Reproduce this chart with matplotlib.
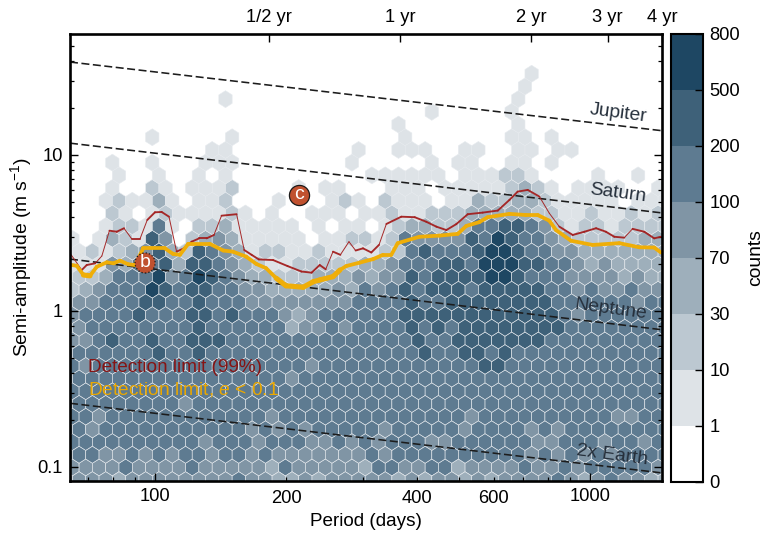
import numpy as np
import matplotlib
matplotlib.use("Agg")
import matplotlib.pyplot as plt
from matplotlib.collections import LineCollection
from matplotlib.colors import ListedColormap, BoundaryNorm
from matplotlib.cm import ScalarMappable
from matplotlib.ticker import FixedLocator, NullFormatter, FixedFormatter

plt.rcParams['font.family'] = ['Liberation Sans', 'DejaVu Sans']
plt.rcParams['mathtext.fontset'] = 'custom'
plt.rcParams['mathtext.rm'] = 'Liberation Sans'
plt.rcParams['mathtext.it'] = 'Liberation Sans:italic'
plt.rcParams['mathtext.default'] = 'regular'

# colour-bar classes
count_bounds = [0, 1, 10, 30, 70, 100, 200, 500, 800]
class_colors = ['#ffffff', '#dee3e7', '#bcc8d1', '#9eafbb', '#8095a5', '#5e7b91', '#3e6179', '#1e4763']
class_counts = [0, 5, 20, 50, 85, 150, 350, 650]

# class index of every hexagon, top row first; rows alternate in phase
hex_rows = [
    "00000 00000 00000 00000 00000 00000 00000 00000 00000",
    "00000 00000 00000 00000 00000 00000 00000 00000 00000 0",
    "00000 00000 00000 00000 00000 00000 00000 00000 00000",
    "00000 00000 00000 00000 00000 00000 00000 10000 00000 0",
    "00000 00000 00000 00000 00000 00000 00001 00000 00000",
    "00000 00000 00100 00000 00000 00000 00001 00000 00000 0",
    "00000 00000 00000 00000 00000 00100 00010 00000 00000",
    "00000 00000 00000 00000 00000 10000 00001 00000 00000 0",
    "00000 01000 00100 00000 00000 10000 00011 01000 00000",
    "00000 00000 01100 00000 00100 11100 11001 10110 00000 0",
    "00010 01000 11100 00000 01000 00101 10011 01000 00000",
    "00001 00100 10100 00000 00011 11110 11122 10000 10010 0",
    "00010 02101 11200 00101 10001 11011 11123 21011 11001",
    "00012 11310 11200 01000 12102 11101 13223 32111 11011 1",
    "00021 01211 11210 10011 10112 11222 33333 22112 11212",
    "00012 21510 22311 11101 01101 23322 35566 54212 21222 2",
    "10132 16402 34311 11101 12212 54444 65765 54322 22233",
    "11212 34632 65431 22112 11112 25655 56776 55443 33333 3",
    "11143 55636 65432 11222 22334 55566 57776 65543 43333",
    "22235 55745 76543 32223 33434 46566 66776 55544 44343 3",
    "23455 57656 65544 33333 43545 65666 56666 65545 44544",
    "34455 56655 65554 44444 44555 56556 66666 66555 55545 5",
    "45555 65556 65655 54345 55555 66666 66666 66545 55555",
    "44555 55555 65555 55344 54555 56565 66666 66655 55555 5",
    "44565 56556 66555 55555 55555 56556 66666 65555 55555",
    "55555 55655 65555 55555 55555 55655 66565 55555 55555 5",
    "54555 55555 55555 55545 55555 55555 56655 55555 55555",
    "55555 55555 55555 55455 55555 55555 55555 55555 55555 5",
    "55555 55555 55555 55555 55555 55555 55555 55555 55555",
    "55555 55554 55555 55555 55555 55555 55555 55555 55555 5",
    "55455 55555 55555 45555 55555 55555 45555 55555 54455",
    "55455 55555 55554 54545 55554 55555 45555 45455 55555 5",
    "55555 55555 45554 55544 54545 55445 55555 44555 45545",
    "55544 54545 54554 54444 44454 55555 55555 45454 54555 5",
    "44445 44445 44444 35444 44355 44553 44445 44545 55554",
    "44443 44444 44454 43343 44444 34344 34344 44543 45443 3",
]

# detection limits
red_period = [64.2, 67.9, 69.7, 72.9, 75.5, 78.6, 81.7, 84.9, 88.4, 92.4, 96.0, 100, 103.6, 107.7, 112.1, 116.5,
              121.4, 126.4, 131.4, 136.6, 142.2, 154, 160.3, 166.7, 173.2, 186.8, 201.6, 217, 229, 239, 246.7,
              256.4, 266.6, 279, 289, 300.5, 314, 327, 340, 368, 395, 420, 443, 467, 492, 523, 566, 613, 652,
              681, 718, 764, 805, 849, 911, 969, 1031, 1086, 1135, 1197, 1250, 1330, 1402, 1453]
red_limit = [2.29, 1.83, 1.97, 2.02, 2.25, 3.27, 3.22, 3.39, 2.90, 2.90, 3.83, 4.29, 4.31, 4.02, 2.40, 2.52,
             2.78, 2.92, 2.92, 3.07, 4.08, 4.17, 2.46, 2.29, 2.14, 2.12, 1.94, 1.79, 1.76, 1.97, 1.85,
             2.40, 2.29, 2.78, 2.44, 2.52, 2.37, 2.65, 3.61, 4.02, 3.99, 3.73, 3.47, 3.30, 3.60, 4.17, 4.27, 4.40, 5.15,
             5.82, 5.97, 5.41, 4.23, 3.47, 3.07, 3.22, 3.39, 3.22, 2.99, 2.95, 3.36, 3.22, 2.92, 2.99]
orange_period = [64.2, 66.1, 68.5, 70.9, 73.5, 77.5, 80.3, 83.1, 86.9, 90, 94, 105.4, 110.1, 114.1, 119.2, 133.7,
                 143.5, 151, 162, 171, 180, 190, 200, 219, 231, 239, 256.4, 266, 275, 295, 317, 334, 349, 361,
                 405, 450, 496, 519, 556, 581, 652, 712, 757, 805, 834, 903, 1012, 1165, 1295, 1402, 1453]
orange_limit = [1.97, 1.95, 1.70, 1.68, 1.92, 2.05, 2.02, 2.10, 1.99, 1.97, 2.52, 2.52, 2.32, 2.29, 2.69, 2.69,
                2.44, 2.40, 2.23, 2.00, 1.88, 1.62, 1.45, 1.42, 1.54, 1.58, 1.66, 1.83, 1.94, 2.04, 2.15, 2.29, 2.29, 2.72,
                2.99, 3.04, 3.12, 3.51, 3.71, 3.99, 4.19, 4.12, 4.12, 3.79, 3.30, 2.82, 2.65, 2.72, 2.56, 2.55, 2.37]

# planet-mass guide lines: amplitude at the two ends of the period range
guide_names = ['Jupiter', 'Saturn', 'Neptune', '2x Earth']
guide_left = [39.4, 11.9, 2.15, 0.256]
guide_right = [14.3, 4.25, 0.758, 0.0916]
guide_label_period = [1158, 1158, 1111, 1122]
guide_label_amp = [18.6, 5.70, 1.02, 0.119]

planet_names = ['b', 'c']
planet_period = [94.9, 214]
planet_amp = [2.03, 5.54]

xlim = (63.8, 1461)
ylim = (0.0813, 59.6)
year_ticks = [182.6, 365.25, 730.5, 1095.75, 1461]
year_labels = ['1/2 yr', '1 yr', '2 yr', '3 yr', '4 yr']

W, H = 766, 538
fig = plt.figure(figsize=(W / 100, H / 100), dpi=100)
ax = fig.add_axes([70 / W, 1 - 481 / H, 592 / W, 447 / H])

# hexagon lattice (log10 units), expressed as in hexbin
ext = (1.7798, 3.1862, -1.1660, 1.7647)
nx, ny = 46, 18
sx = (ext[1] - ext[0]) / nx
sy = (ext[3] - ext[2]) / ny
px, py, pc = [], [], []
for r, row in enumerate(hex_rows):
    cells = row.replace(' ', '')
    odd = r % 2 == 1
    for k, ch in enumerate(cells):
        lvl = int(ch)
        if lvl == 0:
            continue
        if odd:
            lx = ext[0] + (k + 0.5) * sx
        else:
            lx = ext[0] + (k + 1) * sx
        ly = ext[3] - r * sy / 2
        px.append(10 ** lx)
        py.append(10 ** ly)
        pc.append(class_counts[lvl])

cmap = ListedColormap(class_colors)
norm = BoundaryNorm(count_bounds, cmap.N)
ax.hexbin(px, py, C=pc, gridsize=(nx, ny), xscale='log', yscale='log', extent=ext,
          reduce_C_function=np.sum, cmap=cmap, norm=norm, edgecolors='#e6eaee', linewidths=0.42, zorder=1)

# guides
for name, a, b, lp, la in zip(guide_names, guide_left, guide_right, guide_label_period, guide_label_amp):
    ax.plot(xlim, [a, b], color='#1c1c1c', lw=1.15, dashes=(5, 2.2), zorder=3)
    ax.text(lp, la, name, rotation=-7.5, ha='center', va='center', fontsize=13.9, color='#26303c', zorder=6)


def segments(xs, ys):
    pts = np.column_stack([xs, ys])
    return np.stack([pts[:-1], pts[1:]], axis=1)


# the red curve thins out where it is steep
red_seg = segments(red_period, red_limit)
red_slope = np.abs(np.diff(np.log10(red_limit)) / np.diff(np.log10(red_period)))
red_lw = np.where(red_slope > 3.0, 0.7, 1.35)
ax.add_collection(LineCollection(red_seg, colors='#a31f1f', linewidths=red_lw, capstyle='round',
                                 joinstyle='round', zorder=4, alpha=0.95), autolim=False)
# the orange curve is heaviest where the limit is lowest
orange_seg = segments(orange_period, orange_limit)
orange_mid = (np.array(orange_limit[:-1]) + np.array(orange_limit[1:])) / 2
orange_lw = np.where(orange_mid < 1.75, 3.7, 2.7)
ax.add_collection(LineCollection(orange_seg, colors='#efae08', linewidths=orange_lw, capstyle='round',
                                 joinstyle='round', zorder=5), autolim=False)

planet_edge = [':', '-']
for name, p, k, ls in zip(planet_names, planet_period, planet_amp, planet_edge):
    ax.scatter([p], [k], s=14.5 ** 2, c='#c0512f', edgecolors='#1a1a1a', linewidths=0.9, linestyles=ls, zorder=7)
    ax.text(p, k * 1.005, name, ha='center', va='center', color='white', fontsize=14, zorder=8)

ax.text(0.0304, 0.255, 'Detection limit (99%)', transform=ax.transAxes, color='#861414', fontsize=13.7, va='center', zorder=6)
ax.text(0.0304, 0.2036, r'Detection limit, $\mathit{e}$ < 0.1', transform=ax.transAxes, color='#eba800', fontsize=13.8, va='center', zorder=6)

ax.set_xscale('log')
ax.set_yscale('log')
ax.set_xlim(*xlim)
ax.set_ylim(*ylim)

for s in ax.spines.values():
    s.set_linewidth(1.9)
    s.set_zorder(10)

ax.xaxis.set_major_locator(FixedLocator([100, 1000]))
ax.xaxis.set_minor_locator(FixedLocator([70, 80, 90, 200, 300, 400, 500, 600, 700, 800, 900]))
ax.xaxis.set_major_formatter(FixedFormatter(['100', '1000']))
ax.xaxis.set_minor_formatter(NullFormatter())
ax.yaxis.set_major_locator(FixedLocator([0.1, 1, 10]))
ax.yaxis.set_major_formatter(FixedFormatter(['0.1', '1', '10']))
ax.yaxis.set_minor_locator(FixedLocator([m * d for d in (0.1, 1, 10) for m in range(2, 10) if m * d < 59]))
ax.yaxis.set_minor_formatter(NullFormatter())
ax.tick_params(axis='both', which='major', direction='in', length=5.5, width=1.0, labelsize=13.2, zorder=11)
ax.tick_params(axis='both', which='minor', direction='in', length=3, width=0.9, zorder=11)
ax.tick_params(axis='y', which='both', right=True)
ax.tick_params(axis='x', pad=5)
ax.tick_params(axis='y', pad=5)
for v in (200, 400, 600):
    ax.text(v, -0.0385, str(v), transform=ax.get_xaxis_transform(), ha='center', va='center', fontsize=13.2)
ax.set_xlabel('Period (days)', fontsize=13.6, labelpad=6)
ax.set_ylabel(r'Semi-amplitude (m s$^{-1}$)', fontsize=13.9, labelpad=3)

top = ax.twiny()
top.set_xscale('log')
top.set_xlim(*xlim)
top.xaxis.set_major_locator(FixedLocator(year_ticks))
top.xaxis.set_major_formatter(FixedFormatter(year_labels))
top.xaxis.set_minor_locator(FixedLocator([]))
top.tick_params(axis='x', which='major', direction='in', length=5.5, width=1.0, labelsize=13.2, pad=6)
for s in top.spines.values():
    s.set_visible(False)

cax = fig.add_axes([671 / W, 1 - 481.5 / H, 31.5 / W, 448 / H])
cb = fig.colorbar(ScalarMappable(norm=norm, cmap=cmap), cax=cax, spacing='uniform', ticks=count_bounds, drawedges=False)
cb.outline.set_linewidth(1.5)
cb.ax.tick_params(direction='in', length=5.5, width=1.0, labelsize=13.2, pad=5)
cb.ax.minorticks_off()
cb.set_label('counts', fontsize=13.9, labelpad=5)

fig.savefig('out.png', dpi=100)
